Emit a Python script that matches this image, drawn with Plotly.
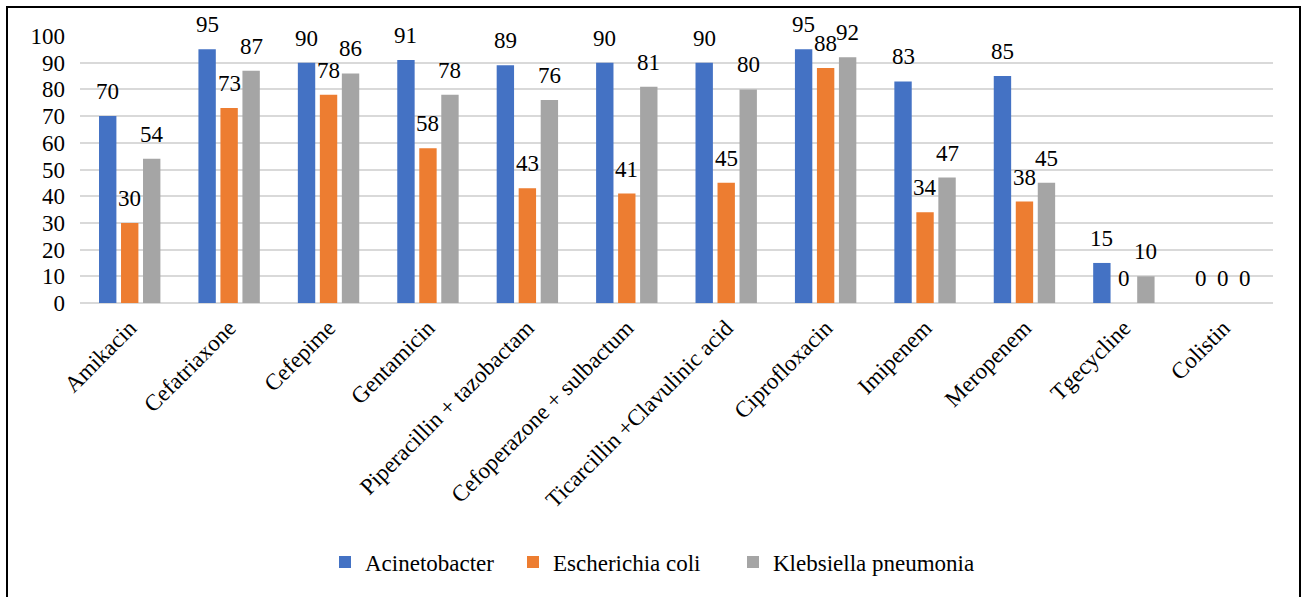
import plotly.graph_objects as go

# Antibiotic resistance (%) by organism
antibiotics = [
    "Amikacin", "Cefatriaxone", "Cefepime", "Gentamicin",
    "Piperacillin + tazobactam", "Cefoperazone + sulbactum",
    "Ticarcillin +Clavulinic acid", "Ciprofloxacin", "Imipenem",
    "Meropenem", "Tgecycline", "Colistin",
]
acinetobacter = [70, 95, 90, 91, 89, 90, 90, 95, 83, 85, 15, 0]
escherichia_coli = [30, 73, 78, 58, 43, 41, 45, 88, 34, 38, 0, 0]
klebsiella = [54, 87, 86, 78, 76, 81, 80, 92, 47, 45, 10, 0]

series_names = ["Acinetobacter", "Escherichia coli", "Klebsiella pneumonia"]
series_values = [acinetobacter, escherichia_coli, klebsiella]
colors = ["#4472C4", "#ED7D31", "#A5A5A5"]

FONT = "'Liberation Serif', 'Times New Roman', Times, serif"
FS = 23

W, H = 1303, 597
ML, MR, MT, MB = 80, 30, 36, 294
plot_w = W - ML - MR
plot_h = H - MT - MB

BARGAP = 0.336
slot_px = plot_w / len(antibiotics) * (1 - BARGAP) / 3


def px_to_paper_x(px):
    return (px - ML) / plot_w


def px_to_paper_y(py):
    return (H - MB - py) / plot_h


# one legend per series so each entry can sit at its own spot along the bottom
legend_ids = ["legend", "legend2", "legend3"]
legend_left_px = [325, 513, 733]

fig = go.Figure()
for name, vals, col, lg in zip(series_names, series_values, colors, legend_ids):
    fig.add_trace(go.Bar(
        x=antibiotics, y=vals, name=name, legend=lg,
        marker=dict(color=col, line=dict(width=0)),
    ))

# value labels above each bar
annotations = []
for i, vals in enumerate(series_values):
    for cat, v in zip(antibiotics, vals):
        annotations.append(dict(
            x=cat, y=v, xref="x", yref="y", text=str(v), showarrow=False,
            xshift=(i - 1) * slot_px, yshift=10, yanchor="bottom",
            font=dict(family=FONT, size=FS, color="#000000"),
        ))

legend_layout = {}
for lg, lx in zip(legend_ids, legend_left_px):
    legend_layout[lg] = dict(
        orientation="h", xref="paper", yref="paper",
        x=px_to_paper_x(lx), y=px_to_paper_y(562),
        xanchor="left", yanchor="middle",
        bgcolor="rgba(0,0,0,0)",
        font=dict(family=FONT, size=FS, color="#000000"),
        itemclick=False, itemdoubleclick=False,
    )

fig.update_layout(
    width=W, height=H,
    margin=dict(l=ML, r=MR, t=MT, b=MB),
    paper_bgcolor="white", plot_bgcolor="white",
    barmode="group", bargap=BARGAP, bargroupgap=0.21,
    font=dict(family=FONT, size=FS, color="#000000"),
    showlegend=True,
    annotations=annotations,
    shapes=[dict(
        type="rect", xref="paper", yref="paper",
        x0=px_to_paper_x(7), x1=px_to_paper_x(1300),
        y0=px_to_paper_y(610), y1=px_to_paper_y(7),
        line=dict(color="#000000", width=2), fillcolor="rgba(0,0,0,0)",
        layer="above",
    )],
    **legend_layout,
)

fig.update_xaxes(
    type="category", tickangle=-45, showgrid=False,
    showline=False, ticks="", ticklabelstandoff=6,
    tickfont=dict(family=FONT, size=FS, color="#000000"),
)
fig.update_yaxes(
    range=[0, 100], dtick=10, tick0=0,
    showgrid=True, gridcolor="#D9D9D9", gridwidth=1.5,
    zeroline=True, zerolinecolor="#D9D9D9", zerolinewidth=2,
    showline=False, ticks="", ticklabelstandoff=14,
    tickfont=dict(family=FONT, size=FS, color="#000000"),
)

fig.write_html("out.html")
